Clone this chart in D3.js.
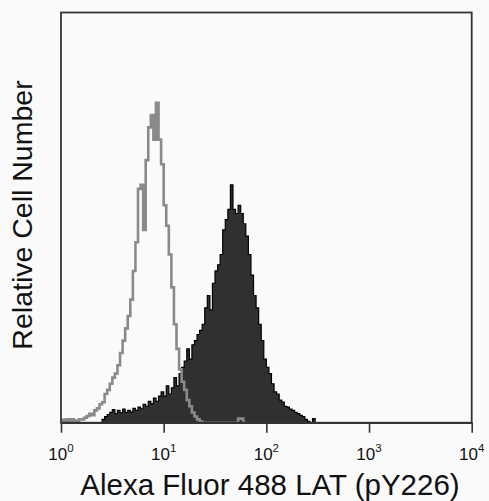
<!DOCTYPE html>
<html>
<head>
<meta charset="utf-8">
<script src="https://cdn.jsdelivr.net/npm/d3@7"></script>
<style>
  body { margin: 0; background: #fafafa; }
  svg { display: block; font-family: "Liberation Sans", Arial, sans-serif; }
</style>
</head>
<body>
<svg id="chart"></svg>
<script>
// histogram channels: 40 bins per decade, counts in relative units
const binsPerDecade = 40;
const decadeTicks = [1, 10, 100, 1000, 10000];
const tickExponents = ["0", "1", "2", "3", "4"];

// isotype control (open gray outline), starts at bin 0
const controlStart = 0;
const controlCounts = [
  0.7, 0, 0.8, 0, 0.8, 0.5, 0, 0.8, 0.8, 1.2,
  1.6, 2.2, 1.8, 3, 3.5, 4.5, 5, 7, 8, 9.5,
  11, 12, 14, 17, 20, 23, 26, 30, 37, 44,
  57, 58, 47, 64, 72, 75, 69, 78, 69, 63,
  53, 48, 41, 33, 24, 18, 13, 10, 8, 5.5,
  4, 2.5, 1.5, 0.8, 0.3, 0, 0, 0, 0, 0,
  0, 0, 0, 0, 0, 0, 0, 0, 0, 1, 1, 0
];

// LAT (pY226) stained sample (filled), starts at bin 16
const stainedStart = 16;
const stainedCounts = [
  0.8, 1.5, 2, 2.5, 3.2, 2.2, 3, 2.4, 3.3, 2.5,
  3, 2.6, 3.5, 3, 3.8, 3.4, 4.5, 4, 5.2, 4.6,
  6, 5.2, 6.5, 7.5, 6.5, 9, 7, 8.5, 11, 9,
  12, 13.5, 15, 18, 15.5, 19, 20, 21.5, 22.5, 24,
  28, 31, 27.5, 34, 37, 38.5, 41, 47, 49.5, 52,
  58, 52, 51, 53, 51, 48.5, 45.5, 41, 36, 31,
  28, 24, 20, 15.5, 13.5, 12, 9.5, 7.5, 7, 5.5,
  5, 4, 3.8, 3.3, 3, 2.5, 2.2, 1.8, 1.5, 0.8,
  0.3, 0, 1, 0
];

const width = 489;
const height = 501;
const margin = {top: 12.5, right: 17.3, bottom: 78.3, left: 61};

const svg = d3.select('#chart').attr('width', width).attr('height', height);

const x = d3.scaleLog().domain([1, 1e4]).range([margin.left, width - margin.right]);
const y = d3.scaleLinear().domain([0, 100]).range([height - margin.bottom, margin.top]);

// turn a list of counts into step points at the bin edges
function stepPoints(start, counts) {
  const pts = counts.map((c, i) => ({e: Math.pow(10, (start + i) / binsPerDecade), c: c}));
  pts.push({e: Math.pow(10, (start + counts.length) / binsPerDecade), c: 0});
  return pts;
}

const stained = stepPoints(stainedStart, stainedCounts);
const control = stepPoints(controlStart, controlCounts);

const area = d3.area()
  .x(d => x(d.e))
  .y0(y(0))
  .y1(d => y(d.c))
  .curve(d3.curveStepAfter);

const line = d3.line()
  .x(d => x(d.e))
  .y(d => y(d.c))
  .curve(d3.curveStepAfter);

// filled histogram
svg.append('path')
  .datum(stained)
  .attr('d', area)
  .attr('fill', '#303030')
  .attr('stroke', '#000')
  .attr('stroke-width', 1.2);

// open histogram on top
svg.append('path')
  .datum(control)
  .attr('d', line)
  .attr('fill', 'none')
  .attr('stroke', '#8a8a8a')
  .attr('stroke-width', 2.6);

// plot frame
svg.append('rect')
  .attr('x', margin.left)
  .attr('y', margin.top)
  .attr('width', width - margin.left - margin.right)
  .attr('height', height - margin.top - margin.bottom)
  .attr('fill', 'none')
  .attr('stroke', '#333')
  .attr('stroke-width', 1.8);

// bottom axis, decade ticks only
const axis = svg.append('g')
  .attr('transform', `translate(0,${height - margin.bottom})`)
  .call(d3.axisBottom(x).tickValues(decadeTicks).tickSize(10).tickSizeOuter(0).tickFormat(''));
axis.select('.domain').attr('stroke', '#333').attr('stroke-width', 1.8);
axis.selectAll('.tick line').attr('stroke', '#333').attr('stroke-width', 1.6);

// tick labels 10^n
decadeTicks.forEach((v, i) => {
  const t = svg.append('text')
    .attr('x', x(v))
    .attr('y', 460)
    .attr('text-anchor', 'middle')
    .attr('fill', '#111')
    .style('font-size', '17px');
  t.append('tspan').text('10');
  t.append('tspan').attr('dy', -8).style('font-size', '11.5px').text(tickExponents[i]);
});

// axis titles
svg.append('text')
  .attr('x', 270)
  .attr('y', 495)
  .attr('text-anchor', 'middle')
  .attr('fill', '#111')
  .style('font-size', '29.5px')
  .text('Alexa Fluor 488 LAT (pY226)');

svg.append('text')
  .attr('transform', 'translate(32,215) rotate(-90)')
  .attr('text-anchor', 'middle')
  .attr('fill', '#111')
  .style('font-size', '28.5px')
  .text('Relative Cell Number');
</script>
</body>
</html>
